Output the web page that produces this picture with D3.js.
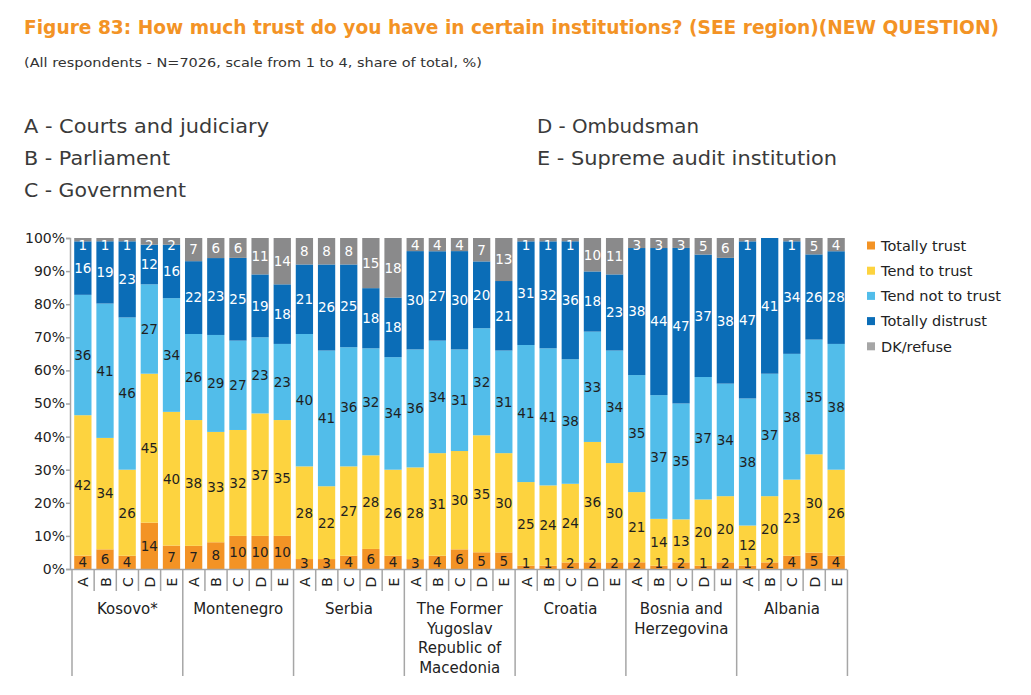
<!DOCTYPE html>
<html lang="en-gb">
<meta charset="utf-8">

<head>
    <style>
        body {
            margin: 0;
            background: #fff;
            font-family: "DejaVu Sans", sans-serif;
        }
    </style>
    <script src="https://d3js.org/d3.v7.min.js"></script>
</head>

<body>
</body>
<script>
    // variables
    var svgWidth = 1031;
    var svgHeight = 695;

    // data (one value per bar, A..E inside each country)
    var countries = ["Kosovo*", "Montenegro", "Serbia", "The Former Yugoslav Republic of Macedonia", "Croatia", "Bosnia and Herzegovina", "Albania"];
    var countryLines = [["Kosovo*"], ["Montenegro"], ["Serbia"], ["The Former", "Yugoslav", "Republic of", "Macedonia"], ["Croatia"], ["Bosnia and", "Herzegovina"], ["Albania"]];
    var items = ["A", "B", "C", "D", "E"];
    var itemNames = ["A - Courts and judiciary", "B - Parliament", "C - Government", "D - Ombudsman", "E - Supreme audit institution"];
    var seriesNames = ["Totally trust", "Tend to trust", "Tend not to trust", "Totally distrust", "DK/refuse"];

    var totallyTrust    = [4, 6, 4, 14, 7,   7, 8, 10, 10, 10,   3, 3, 4, 6, 4,     3, 4, 6, 5, 5,     1, 1, 2, 2, 2,     2, 1, 2, 1, 2,     1, 2, 4, 5, 4];
    var tendToTrust     = [42, 34, 26, 45, 40, 38, 33, 32, 37, 35, 28, 22, 27, 28, 26, 28, 31, 30, 35, 30, 25, 24, 24, 36, 30, 21, 14, 13, 20, 20, 12, 20, 23, 30, 26];
    var tendNotToTrust  = [36, 41, 46, 27, 34, 26, 29, 27, 23, 23, 40, 41, 36, 32, 34, 36, 34, 31, 32, 31, 41, 41, 38, 33, 34, 35, 37, 35, 37, 34, 38, 37, 38, 35, 38];
    var totallyDistrust = [16, 19, 23, 12, 16, 22, 23, 25, 19, 18, 21, 26, 25, 18, 18, 30, 27, 30, 20, 21, 31, 32, 36, 18, 23, 38, 44, 47, 37, 38, 47, 41, 34, 26, 28];
    var dkRefuse        = [1, 1, 1, 2, 2,    7, 6, 6, 11, 14,   8, 8, 8, 15, 18,   4, 4, 4, 7, 13,    1, 1, 1, 10, 11,   3, 3, 3, 5, 6,     1, 0, 1, 5, 4];

    var colors = ["#f39325", "#fdd33f", "#52bdea", "#0b6db7", "#8a8a8b"];
    var legendColors = ["#f39325", "#fdd33f", "#52bdea", "#0b6db7", "#a6a6a6"];
    var labelColors = ["#1f1f1f", "#1f1f1f", "#1f1f1f", "#ffffff", "#ffffff"];

    var keys = ["tt", "tend", "tnot", "dist", "dk"];
    var allSeries = [totallyTrust, tendToTrust, tendNotToTrust, totallyDistrust, dkRefuse];

    // one row per bar
    var rows = [];
    countries.forEach(function (c, ci) {
        items.forEach(function (it, ii) {
            var i = ci * 5 + ii;
            var row = { id: ci + "-" + it, country: c, item: it };
            keys.forEach(function (k, ki) { row[k] = allSeries[ki][i]; });
            rows.push(row);
        });
    });

    var svg = d3.select("body")
        .append("svg")
        .attr("width", svgWidth)
        .attr("height", svgHeight);

    // titles
    svg.append("text")
        .attr("x", 24).attr("y", 34)
        .attr("fill", "#f39325")
        .attr("font-weight", "bold")
        .attr("font-size", 19)
        .attr("textLength", 975)
        .attr("lengthAdjust", "spacingAndGlyphs")
        .text("Figure 83: How much trust do you have in certain institutions? (SEE region)(NEW QUESTION)");

    svg.append("text")
        .attr("x", 24).attr("y", 67)
        .attr("fill", "#333")
        .attr("font-size", 13)
        .attr("textLength", 458)
        .attr("lengthAdjust", "spacingAndGlyphs")
        .text("(All respondents - N=7026, scale from 1 to 4, share of total, %)");

    // item key at the top
    var keyWidths = [245, 146, 162, 162, 300];
    svg.append("g").selectAll("text")
        .data(itemNames)
        .enter().append("text")
        .attr("x", function (d, i) { return i < 3 ? 24 : 537; })
        .attr("y", function (d, i) { return 133 + (i % 3) * 32; })
        .attr("fill", "#3a3a3a")
        .attr("font-size", 20)
        .attr("textLength", function (d, i) { return keyWidths[i]; })
        .attr("lengthAdjust", "spacingAndGlyphs")
        .text(function (d) { return d; });

    // scales
    var x = d3.scaleBand()
        .domain(rows.map(function (d) { return d.id; }))
        .range([72, 847])
        .paddingInner(0.22)
        .paddingOuter(0.1);

    var y = d3.scaleLinear()
        .domain([0, 1])
        .range([569, 238]);

    var stack = d3.stack().keys(keys).offset(d3.stackOffsetExpand);
    var stacked = stack(rows);

    // bars
    var layers = svg.append("g").selectAll("g")
        .data(stacked)
        .enter().append("g")
        .attr("fill", function (d, i) { return colors[i]; });

    layers.selectAll("rect")
        .data(function (d) { return d; })
        .enter().append("rect")
        .attr("x", function (d) { return x(d.data.id); })
        .attr("y", function (d) { return y(d[1]); })
        .attr("width", x.bandwidth())
        .attr("height", function (d) { return y(d[0]) - y(d[1]); });

    // value labels on top of all bars, kept inside the plot
    var labelLayers = svg.append("g").selectAll("g")
        .data(stacked)
        .enter().append("g")
        .attr("fill", function (d, i) { return labelColors[i]; });

    labelLayers.selectAll("text")
        .data(function (layer) {
            var k = layer.key;
            return layer.filter(function (d) { return d.data[k] > 0; })
                .map(function (d) { return { seg: d, v: d.data[k] }; });
        })
        .enter().append("text")
        .attr("x", function (d) { return x(d.seg.data.id) + x.bandwidth() / 2; })
        .attr("y", function (d) {
            var m = (y(d.seg[0]) + y(d.seg[1])) / 2;
            return Math.max(245, Math.min(563, m));
        })
        .attr("dy", "0.36em")
        .attr("text-anchor", "middle")
        .attr("font-size", 13.5)
        .text(function (d) { return d.v; });

    // y axis
    var yAxis = svg.append("g")
        .attr("transform", "translate(70,0)")
        .call(d3.axisLeft(y).ticks(10).tickFormat(d3.format(".0%")).tickSize(4).tickSizeOuter(4));
    yAxis.select(".domain").attr("stroke", "#a6a6a6").attr("stroke-width", 1.5);
    yAxis.selectAll(".tick line").attr("stroke", "#a6a6a6").attr("stroke-width", 1.5);
    yAxis.selectAll(".tick text")
        .attr("font-family", "DejaVu Sans, sans-serif")
        .attr("font-size", 14)
        .attr("fill", "#222")
        .attr("x", -5);

    // x axis line and dividers
    var step = x.step();
    var x0 = 72;
    svg.append("line")
        .attr("x1", 70).attr("x2", 847)
        .attr("y1", 569.5).attr("y2", 569.5)
        .attr("stroke", "#a6a6a6").attr("stroke-width", 1.5);

    svg.append("g").selectAll("line")
        .data(d3.range(rows.length + 1))
        .enter().append("line")
        .attr("x1", function (i) { return x0 + i * step; })
        .attr("x2", function (i) { return x0 + i * step; })
        .attr("y1", 569.5)
        .attr("y2", function (i) { return i % 5 === 0 ? 676 : 591; })
        .attr("stroke", "#a6a6a6").attr("stroke-width", 1.5);

    // A..E rotated labels
    svg.append("g").selectAll("text")
        .data(rows)
        .enter().append("text")
        .attr("transform", function (d) {
            return "translate(" + (x(d.id) + x.bandwidth() / 2 + 0.5) + ",582) rotate(-90)";
        })
        .attr("text-anchor", "middle")
        .attr("dy", "0.36em")
        .attr("font-size", 14)
        .attr("fill", "#222")
        .text(function (d) { return d.item; });

    // country labels
    var cl = svg.append("g").selectAll("text")
        .data(countryLines)
        .enter().append("text")
        .attr("text-anchor", "middle")
        .attr("font-size", 15)
        .attr("fill", "#222")
        .attr("transform", function (d, i) {
            return "translate(" + (x0 + (i * 5 + 2.5) * step) + ",614)";
        });
    cl.selectAll("tspan")
        .data(function (d) { return d; })
        .enter().append("tspan")
        .attr("x", 0)
        .attr("y", function (d, i) { return i * 19.5; })
        .text(function (d) { return d; });

    // legend
    var legend = svg.append("g").selectAll("g")
        .data(seriesNames)
        .enter().append("g")
        .attr("transform", function (d, i) { return "translate(867," + (245.5 + i * 25.2) + ")"; });
    legend.append("rect")
        .attr("x", 0).attr("y", -4)
        .attr("width", 8).attr("height", 8)
        .attr("fill", function (d, i) { return legendColors[i]; });
    legend.append("text")
        .attr("x", 14)
        .attr("dy", "0.36em")
        .attr("font-size", 14.5)
        .attr("fill", "#222")
        .text(function (d) { return d; });
</script>

</html>
